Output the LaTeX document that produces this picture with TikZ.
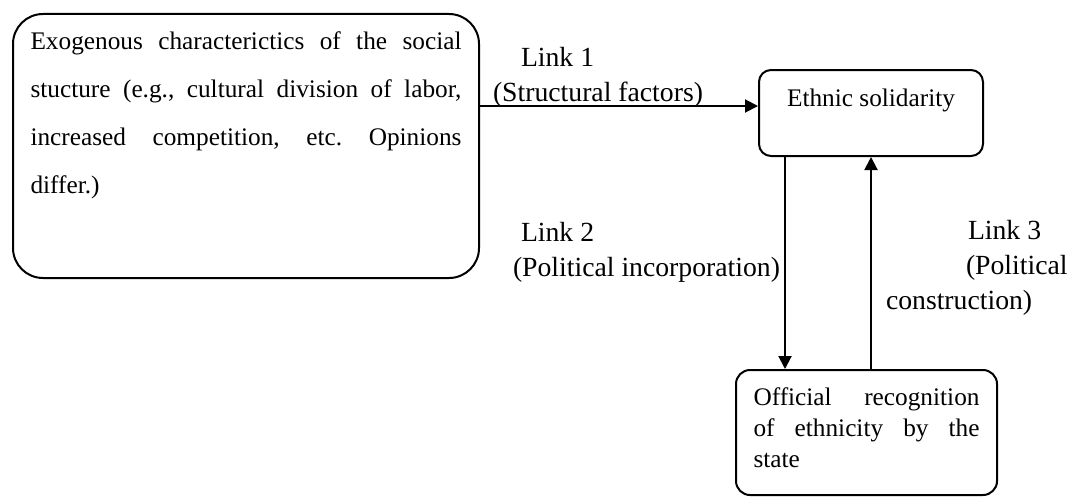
\documentclass[tikz,border=0pt]{standalone}
\usepackage{fontspec}
\setmainfont{Liberation Serif}
\usetikzlibrary{arrows.meta}
\frenchspacing

\begin{document}
\begin{tikzpicture}[x=1bp, y=1bp, line width=1bp,
  box/.style={draw, rounded corners=#1, inner xsep=8.75bp, inner ysep=8.5bp, text height=9bp},
  box/.default=6bp,
  boxtext/.style={font=\fontsize{12.65bp}{#1}\selectfont},
  link/.style={-{Triangle[length=6.5bp,width=6.5bp]}},
  linktext/.style={anchor=north west, inner sep=0pt, align=left, font=\fontsize{13.85bp}{17.5bp}\selectfont}]
\useasboundingbox (0,0) rectangle (534,248);
\node[box=15bp, boxtext=24bp, anchor=north west, text width=215.5bp, align=justify, text depth=106bp] (exo) at (6,241.5)
  {Exogenous characterictics of the social\linebreak stucture (e.g., cultural division of labor,\linebreak increased competition, etc. Opinions\linebreak differ.)};
\node[box, boxtext=15pt, anchor=north, minimum width=112bp, inner ysep=9bp, text depth=16bp] (sol) at (435.5,213.5) {Ethnic solidarity};
\node[box=7bp, boxtext=15.7bp, anchor=north west, text width=113bp, align=justify, text depth=36.5bp] (rec) at (367.5,63.5)
  {Official recognition\linebreak of ethnicity by the\linebreak state};
\node[linktext] (l1) at (246,225) {\hspace*{14bp}Link 1\\(Structural factors)};
\node[linktext] (l2) at (256,137.5) {\hspace*{4bp}Link 2\\(Political incorporation)};
\node[linktext] (l3) at (442.5,138.5) {\hspace*{41bp}Link 3\\\hspace*{40bp}(Political\\construction)};
\coordinate (in) at ([yshift=3.5bp]sol.west);
\coordinate (down) at ([xshift=13.5bp]sol.south west);
\draw[link] (exo.east |- in) -- (in);
\draw[link] (down) -- (down |- rec.north);
\draw[link] (rec.north -| sol.south) -- (sol.south);
\end{tikzpicture}
\end{document}
